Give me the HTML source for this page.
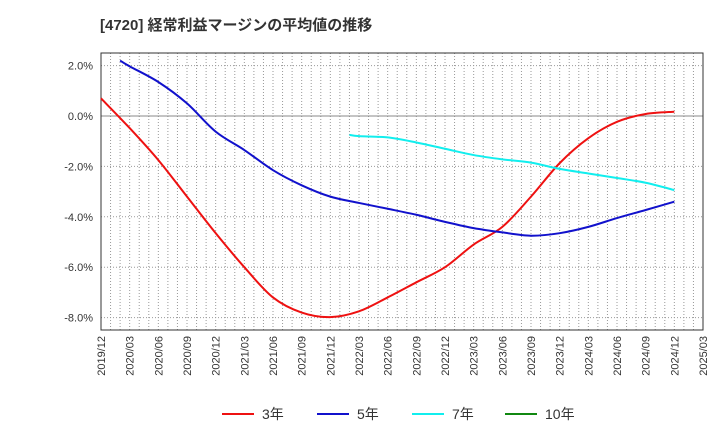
<!DOCTYPE html>
<html><head><meta charset="utf-8">
<style>body{margin:0;background:#fff;font-family:"Liberation Sans","Noto Sans CJK JP",sans-serif}</style></head>
<body>
<svg id="c" width="720" height="440" viewBox="0 0 720 440" xmlns="http://www.w3.org/2000/svg">
<text x="100" y="30" font-size="15" font-weight="bold" fill="#333" font-family="Liberation Sans, Noto Sans CJK JP, sans-serif">[4720]  経常利益マージンの平均値の推移</text>
<g id="grid"></g><g id="axes"></g><g id="series"></g><g id="legend"></g>
</svg>
<script>
const xLabels=["2019/12","2020/03","2020/06","2020/09","2020/12","2021/03","2021/06","2021/09","2021/12","2022/03","2022/06","2022/09","2022/12","2023/03","2023/06","2023/09","2023/12","2024/03","2024/06","2024/09","2024/12","2025/03"];
const yTicks=[2,0,-2,-4,-6,-8];
// months since 2019/12
const m3=[0,3,6,9,12,15,18,21,24,27,30,33,36,39,42,45,48,51,54,57,60];
const v3=[0.7,-0.48,-1.75,-3.2,-4.65,-6.0,-7.2,-7.8,-7.98,-7.75,-7.2,-6.6,-6.0,-5.1,-4.4,-3.2,-1.87,-0.88,-0.23,0.08,0.17];
const m5=[2,3,6,9,12,15,18,21,24,27,30,33,36,39,42,45,48,51,54,57,60];
const v5=[2.2,1.97,1.35,0.5,-0.62,-1.35,-2.15,-2.75,-3.2,-3.45,-3.68,-3.92,-4.2,-4.45,-4.62,-4.75,-4.65,-4.4,-4.05,-3.73,-3.4];
const m7=[26,27,30,33,36,39,42,45,48,51,54,57,60];
const v7=[-0.75,-0.8,-0.85,-1.05,-1.3,-1.55,-1.72,-1.85,-2.1,-2.28,-2.46,-2.65,-2.94];
const L=101,R=703,T=53,B=330;
const X=m=>L+m*(R-L)/63, Y=v=>116-v*25.2;
const NS="http://www.w3.org/2000/svg";
function mk(p,tag,a){const e=document.createElementNS(NS,tag);for(const k in a)e.setAttribute(k,a[k]);document.getElementById(p).appendChild(e);return e;}
for(let m=1;m<63;m++){const l=mk('grid','line',{x1:X(m),x2:X(m),y1:T,y2:B,stroke:'#999','stroke-dasharray':'1,2','stroke-width':1});

}
for(let v=2;v>=-8;v-=2){const l=mk('grid','line',{x1:L,x2:R,y1:Y(v),y2:Y(v),stroke:v==0?'#888':'#999','stroke-dasharray':v==0?'none':'1,2','stroke-width':1});

}
const fr=mk('axes','rect',{x:L,y:T,width:R-L,height:B-T,fill:'none',stroke:'#333','stroke-width':1});


yTicks.forEach(v=>{const t=mk('axes','text',{x:L-8,y:Y(v)+4,'text-anchor':'end','font-size':11,fill:'#333'});t.textContent=v.toFixed(1)+'%';

});
xLabels.forEach((s,i)=>{const x=X(i*3);const t=mk('axes','text',{x:x+4,y:B+6,'text-anchor':'end','font-size':11,fill:'#333',transform:`rotate(-90 ${x+4} ${B+6})`});t.textContent=s;

});
function path(ms,vs){const p=ms.map((m,i)=>[X(m),Y(vs[i])]);let d=`M${p[0][0]},${p[0][1]}`;
for(let i=0;i<p.length-1;i++){const p0=p[Math.max(0,i-1)],p1=p[i],p2=p[i+1],p3=p[Math.min(p.length-1,i+2)];
d+=` C${p1[0]+(p2[0]-p0[0])/6},${p1[1]+(p2[1]-p0[1])/6} ${p2[0]-(p3[0]-p1[0])/6},${p2[1]-(p3[1]-p1[1])/6} ${p2[0]},${p2[1]}`;}return d;}
const s3=mk('series','path',{d:path(m3,v3),fill:'none',stroke:'#ee1111','stroke-width':2});


const s5=mk('series','path',{d:path(m5,v5),fill:'none',stroke:'#1111cc','stroke-width':2});


const s7=mk('series','path',{d:path(m7,v7),fill:'none',stroke:'#11eeee','stroke-width':2});


[['3年','#ee1111',222],['5年','#1111cc',317],['7年','#11eeee',412],['10年','#118811',505]].forEach(([n,c,x])=>{
const g=mk('legend','g',{});


const l=document.createElementNS(NS,'line');l.setAttribute('x1',x);l.setAttribute('x2',x+32);l.setAttribute('y1',414);l.setAttribute('y2',414);l.setAttribute('stroke',c);l.setAttribute('stroke-width',2);g.appendChild(l);
const t=document.createElementNS(NS,'text');t.setAttribute('x',x+40);t.setAttribute('y',419);t.setAttribute('font-size',14);t.setAttribute('fill','#333');t.textContent=n;g.appendChild(t);});
</script>
</body></html>
